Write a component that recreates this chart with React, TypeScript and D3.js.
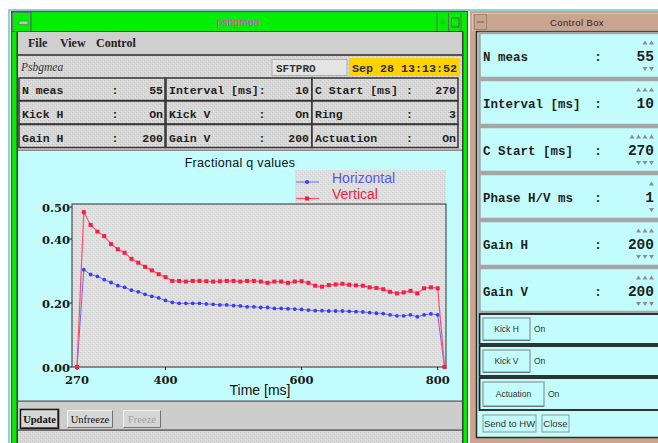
import React from "react";
import * as d3 from "d3";

// Acquisition settings (also define the time axis of the samples)
const cStart = 270;
const intervalMs = 10;

// Fractional q values, one sample per interval (55 measurements)
const horizontal = [
  0, 0.304, 0.289, 0.283, 0.273, 0.264, 0.254, 0.249, 0.24, 0.235,
  0.227, 0.221, 0.216, 0.208, 0.202, 0.199, 0.199, 0.199, 0.199, 0.197,
  0.196, 0.194, 0.194, 0.192, 0.191, 0.188, 0.188, 0.186, 0.186, 0.183,
  0.183, 0.182, 0.181, 0.18, 0.178, 0.176, 0.176, 0.175, 0.175, 0.175,
  0.174, 0.173, 0.172, 0.17, 0.168, 0.167, 0.163, 0.16, 0.16, 0.163,
  0.157, 0.163, 0.166, 0.163, 0,
];
const vertical = [
  0, 0.484, 0.444, 0.423, 0.409, 0.384, 0.368, 0.357, 0.338, 0.326,
  0.313, 0.302, 0.29, 0.281, 0.269, 0.269, 0.267, 0.269, 0.269, 0.268,
  0.267, 0.268, 0.269, 0.269, 0.267, 0.269, 0.269, 0.267, 0.263, 0.267,
  0.267, 0.263, 0.267, 0.268, 0.263, 0.254, 0.251, 0.256, 0.258, 0.26,
  0.257, 0.255, 0.254, 0.249, 0.247, 0.243, 0.235, 0.23, 0.233, 0.238,
  0.23, 0.246, 0.249, 0.246, 0,
];
const times = horizontal.map((_, i) => cStart + i * intervalMs);

const xTicks = [270, 400, 600, 800];
const yTicks = [0, 0.2, 0.4, 0.5];
const seriesNames = ["Horizontal", "Vertical"];

// Status grid of the main window
const statusLabels = ["N meas", "Interval [ms]:", "C Start [ms]", "Kick H", "Kick V", "Ring", "Gain H", "Gain V", "Actuation"];
const statusValues = ["55", "10", "270", "On", "On", "3", "200", "200", "On"];
const statusColon = [true, false, true, true, true, true, true, true, true];

// Control box entries
const ctrlLabels = ["N meas", "Interval [ms]", "C Start [ms]", "Phase H/V ms", "Gain H", "Gain V"];
const ctrlValues = ["55", "10", "270", "1", "200", "200"];
const ctrlUp = [2, 3, 4, 1, 3, 3];
const ctrlDown = [2, 0, 3, 1, 3, 3];
const toggleLabels = ["Kick H", "Kick V", "Actuation"];
const toggleValues = ["On", "On", "On"];

const W = 658;
const H = 443;
const CYAN = "#c2fcfc";
const MONO = "'Liberation Mono', monospace";
const SERIF = "'Liberation Serif', serif";
const SANS = "'Liberation Sans', Arial, sans-serif";

function Arrows({ n, right, cy, up }: { n: number; right: number; cy: number; up: boolean }) {
  const items = d3.range(n);
  return (
    <g fill="#8e8e8e">
      {items.map((k) => {
        const cx = right - 2.5 - k * 6.5;
        const p = up
          ? `M${cx - 2.5},${cy + 2} L${cx + 2.5},${cy + 2} L${cx},${cy - 2} Z`
          : `M${cx - 2.5},${cy - 2} L${cx + 2.5},${cy - 2} L${cx},${cy + 2} Z`;
        return <path key={k} d={p} />;
      })}
    </g>
  );
}

function Button3D({ x, y, w, h, label, fill, size, color, font, heavy }: any) {
  return (
    <g>
      <rect x={x} y={y} width={w} height={h} fill={fill} />
      <path d={`M${x + 0.5},${y + h - 0.5} V${y + 0.5} H${x + w - 0.5}`} stroke="#f4f4f4" fill="none" />
      <path d={`M${x + 0.5},${y + h - 0.5} H${x + w - 0.5} V${y + 0.5}`} stroke="#707070" fill="none" />
      {heavy && <rect x={x - 0.5} y={y - 0.5} width={w + 1} height={h + 1} fill="none" stroke="#1a1a1a" strokeWidth={1.6} />}
      <text x={x + w / 2} y={y + h / 2 + size * 0.35} textAnchor="middle" fontFamily={font} fontSize={size} fill={color} fontWeight={heavy ? "bold" : "normal"}>
        {label}
      </text>
    </g>
  );
}

export default function App() {
  const x = d3.scaleLinear().domain([270, 800]).range([77, 437.7]);
  const y = d3.scaleLinear().domain([0, 0.5]).range([367, 207]);
  const line = d3
    .line<number>()
    .x((_, i) => x(times[i]))
    .y((d) => y(d));

  const plot = { left: 72, right: 446, top: 204, bottom: 367 };

  const colX = [19, 166, 312];
  const colW = [146, 146, 146];
  const rowY = [78, 101, 124.5];
  const rowH = [22.5, 23, 23];
  const baseY = [93.5, 117.5, 141.5];
  const colonX = [115, 262, 409.5];
  const valRight = [163, 309, 456];

  const ctrlTop = [33, 80, 127, 174, 221, 268];
  const ctrlH = [45, 45, 45, 45, 45, 44];
  const togTop = [314, 346, 378];
  const togH = [30, 30, 32];
  const togBtnW = [47, 47, 61];

  return (
    <div style={{ position: "fixed", left: 0, top: 0 }}>
      <svg width={W} height={H} style={{ display: "block" }}>
        <defs>
          <pattern id="stip" width="4" height="4" patternUnits="userSpaceOnUse">
            <rect width="4" height="4" fill="#d7d7d7" />
            <rect x="0" y="0" width="1" height="1" fill="#c5c5c5" />
            <rect x="2" y="2" width="1" height="1" fill="#c8c8c8" />
            <rect x="1" y="3" width="1" height="1" fill="#e4e4e4" />
            <rect x="3" y="1" width="1" height="1" fill="#e4e4e4" />
          </pattern>
          <pattern id="stipPlot" width="4" height="4" patternUnits="userSpaceOnUse">
            <rect width="4" height="4" fill="#dedede" />
            <rect x="0" y="0" width="1" height="1" fill="#d0d0d0" />
            <rect x="2" y="2" width="1" height="1" fill="#d2d2d2" />
            <rect x="1" y="3" width="1" height="1" fill="#e8e8e8" />
            <rect x="3" y="1" width="1" height="1" fill="#e8e8e8" />
          </pattern>
        </defs>

        <rect width={W} height={H} fill="#ffffff" />
        {/* desktop frame */}
        <rect x={8} y={9} width={650} height={2} fill="#86d8d0" />
        <rect x={8} y={9} width={2} height={434} fill="#86d8d0" />

        {/* ===== main window ===== */}
        <rect x={11.5} y={11.5} width={456} height={440} fill="#00f000" stroke="#9a22a8" strokeWidth={1.2} />
        <rect x={16.5} y={31} width={447} height={420} fill="#3c3c3c" />
        {/* title bar */}
        <rect x={12} y={12} width={19} height={19.5} fill="#00f000" stroke="#9a22a8" strokeWidth={1} />
        <rect x={19} y={21} width={9} height={3.5} fill="#b8c8b8" stroke="#607060" strokeWidth={0.6} />
        <text x={238} y={26} textAnchor="middle" fontFamily={SANS} fontSize={10.5} fill="#e040d8">
          psbgmea
        </text>
        <line x1={437} x2={437} y1={13} y2={31} stroke="#6a6a6a" />
        <line x1={448.5} x2={448.5} y1={13} y2={31} stroke="#6a6a6a" />
        <line x1={461} x2={461} y1={13} y2={31} stroke="#6a6a6a" />
        <circle cx={442.5} cy={22} r={1.4} fill="none" stroke="#5a5a5a" strokeWidth={0.8} />
        <rect x={451.5} y={18} width={7.5} height={9} fill="none" stroke="#5a5a5a" strokeWidth={0.9} />

        {/* menu bar */}
        <rect x={18} y={32} width={444} height={22} fill="#cfcfcf" />
        <rect x={18} y={54} width={444} height={2} fill="#555" />
        <g fontFamily={SERIF} fontWeight="bold" fontSize={12} fill="#222">
          <text x={28} y={47}>File</text>
          <text x={60} y={47}>View</text>
          <text x={96} y={47}>Control</text>
        </g>

        {/* header row + status grid */}
        <rect x={18} y={56} width={444} height={94} fill="url(#stip)" />
        <text x={21} y={71} fontFamily={SERIF} fontStyle="italic" fontSize={11.5} fill="#333">
          Psbgmea
        </text>
        <rect x={272} y={59.5} width={75} height={16} fill="#e4e4e4" stroke="#b0b0b0" />
        <text x={276} y={71.5} fontFamily={MONO} fontWeight="bold" fontSize={11} fill="#333">
          SFTPRO
        </text>
        <rect x={349} y={58} width={111} height={18} fill="#ffd200" />
        <text x={404.5} y={71.5} textAnchor="middle" fontFamily={MONO} fontWeight="bold" fontSize={11.7} fill="#2c2c2c">
          Sep 28 13:13:52
        </text>

        {statusLabels.map((lab, k) => {
          const r = Math.floor(k / 3);
          const c = k % 3;
          return (
            <g key={lab + k} fontFamily={MONO} fontWeight="bold" fontSize={11.5} fill="#222">
              <rect x={colX[c]} y={rowY[r]} width={colW[c]} height={rowH[r]} fill="url(#stip)" stroke="#353535" strokeWidth={1.5} />
              <text x={colX[c] + 3} y={baseY[r]}>{lab}</text>
              {statusColon[k] && (
                <text x={colonX[c]} y={baseY[r]} textAnchor="middle">:</text>
              )}
              <text x={valRight[c]} y={baseY[r]} textAnchor="end">{statusValues[k]}</text>
            </g>
          );
        })}

        {/* chart panel */}
        <rect x={18} y={150} width={444} height={251} fill={CYAN} />
        <rect x={18} y={149.5} width={444} height={1.5} fill="#8a8a8a" />
        <text x={240} y={167} textAnchor="middle" fontFamily={SANS} fontSize={12.5} letterSpacing={0.3} fill="#111">
          Fractional q values
        </text>

        {/* legend */}
        <rect x={295} y={170} width={151} height={33} fill="url(#stipPlot)" />
        <line x1={296} x2={319} y1={182} y2={182} stroke="#6a6aff" strokeWidth={1} />
        <circle cx={307} cy={182} r={2} fill="#3c3cff" />
        <text x={332} y={183} fontFamily={SANS} fontSize={14} fill="#5656f0">{seriesNames[0]}</text>
        <line x1={296} x2={319} y1={198.5} y2={198.5} stroke="#ff4d6a" strokeWidth={1.2} />
        <rect x={305} y={196.5} width={4} height={4} fill="#ff1a44" />
        <text x={332} y={198.5} fontFamily={SANS} fontSize={14} fill="#f02040">{seriesNames[1]}</text>

        {/* plot area */}
        <rect x={plot.left} y={plot.top} width={plot.right - plot.left} height={plot.bottom - plot.top} fill="url(#stipPlot)" stroke="#2e2e2e" strokeWidth={1} />

        {yTicks.map((t) => (
          <g key={"y" + t}>
            <line x1={plot.left - 2.5} x2={plot.left} y1={y(t)} y2={y(t)} stroke="#222" />
            <text x={plot.left - 2} y={y(t) + 5} textAnchor="end" fontFamily="'DejaVu Serif', serif" fontWeight="bold" fontSize={11.5} fill="#1a1a1a">
              {t.toFixed(2)}
            </text>
          </g>
        ))}
        {xTicks.map((t) => (
          <g key={"x" + t}>
            <line x1={x(t)} x2={x(t)} y1={plot.bottom} y2={plot.bottom + 3} stroke="#222" />
            <text x={x(t)} y={383.5} textAnchor="middle" fontFamily="'DejaVu Serif', serif" fontWeight="bold" fontSize={11.5} fill="#1a1a1a">
              {t}
            </text>
          </g>
        ))}
        <text x={260} y={395} textAnchor="middle" fontFamily={SANS} fontSize={14} fill="#111">
          Time [ms]
        </text>

        {/* series */}
        <path d={line(horizontal) || ""} fill="none" stroke="#6a6aff" strokeWidth={1} />
        {horizontal.map((v, i) => (
          <circle key={"h" + i} cx={x(times[i])} cy={y(v)} r={1.9} fill="#3c3cff" />
        ))}
        <path d={line(vertical) || ""} fill="none" stroke="#ff4d6a" strokeWidth={1.2} />
        {vertical.map((v, i) => (
          <rect key={"v" + i} x={x(times[i]) - 2} y={y(v) - 2} width={4} height={4} fill="#ff1a44" />
        ))}

        {/* bottom toolbar */}
        <rect x={18} y={401} width={444} height={29} fill="#cdcdcd" />
        <rect x={18} y={400.5} width={444} height={1.2} fill="#555" />
        <Button3D x={21} y={410} w={37} h={18} label="Update" fill="#d6d6d6" size={10.5} color="#111" font={SERIF} heavy />
        <Button3D x={67} y={410} w={46} h={18} label="Unfreeze" fill="#d6d6d6" size={10.5} color="#111" font={SERIF} />
        <Button3D x={123} y={410} w={38} h={18} label="Freeze" fill="#d6d6d6" size={10.5} color="#a4a4a4" font={SERIF} />
        <rect x={18} y={430} width={444} height={14} fill="url(#stip)" />
        <rect x={18} y={429.5} width={444} height={1.2} fill="#444" />

        {/* ===== control box ===== */}
        <rect x={470} y={11} width={188} height={432} fill="#c9a48e" />
        <rect x={472.5} y={13.5} width={186} height={17} fill="none" stroke="#dcc2b2" />
        <rect x={474.5} y={14.5} width={12} height={15} fill="none" stroke="#a48474" />
        <line x1={477} x2={484} y1={22} y2={22} stroke="#7a5a4a" />
        <text x={577} y={26} textAnchor="middle" fontFamily={SANS} fontSize={9.5} letterSpacing={0.4} fill="#3a2020">
          Control Box
        </text>
        <rect x={476.5} y={31.5} width={185} height={406} fill={CYAN} stroke="#2a2a2a" strokeWidth={1.5} />

        {ctrlLabels.map((lab, i) => {
          const top = ctrlTop[i];
          const h = ctrlH[i];
          const base = top + 28;
          return (
            <g key={lab}>
              <rect x={479.5} y={top} width={182} height={h} fill={CYAN} stroke="#a6a6a6" strokeWidth={2.5} />
              <text x={483} y={base} fontFamily={MONO} fontWeight="bold" fontSize={12.5} fill="#1e1e1e">{lab}</text>
              <text x={598} y={base} textAnchor="middle" fontFamily={MONO} fontWeight="bold" fontSize={12.5} fill="#1e1e1e">:</text>
              <text x={654} y={base} textAnchor="end" fontFamily={MONO} fontWeight="bold" fontSize={14.5} fill="#1e1e1e">{ctrlValues[i]}</text>
              <Arrows n={ctrlUp[i]} right={654} cy={top + 9.5} up />
              <Arrows n={ctrlDown[i]} right={654} cy={top + 36} up={false} />
            </g>
          );
        })}

        {toggleLabels.map((lab, i) => {
          const top = togTop[i];
          const h = togH[i];
          return (
            <g key={lab}>
              <rect x={479.5} y={top} width={182} height={h} fill={CYAN} stroke="#1e1e1e" strokeWidth={1.8} />
              <rect x={483} y={top + 4} width={togBtnW[i]} height={h - 8} fill={CYAN} stroke="#9aa8a8" strokeWidth={1.5} />
              <line x1={483} x2={483 + togBtnW[i]} y1={top + h - 3.5} y2={top + h - 3.5} stroke="#6a7a7a" />
              <text x={483 + togBtnW[i] / 2} y={top + h / 2 + 3} textAnchor="middle" fontFamily={SANS} fontSize={8.5} fill="#333">{lab}</text>
              <text x={483 + togBtnW[i] + 4} y={top + h / 2 + 3} fontFamily={SANS} fontSize={8.5} fill="#333">{toggleValues[i]}</text>
            </g>
          );
        })}

        <rect x={483} y={415} width={53} height={17} fill={CYAN} stroke="#8a9898" />
        <text x={509.5} y={427} textAnchor="middle" fontFamily={SANS} fontSize={9.5} fill="#333">Send to HW</text>
        <rect x={542} y={415} width={27} height={17} fill={CYAN} stroke="#8a9898" />
        <text x={555.5} y={427} textAnchor="middle" fontFamily={SANS} fontSize={9.5} fill="#333">Close</text>
      </svg>
    </div>
  );
}
